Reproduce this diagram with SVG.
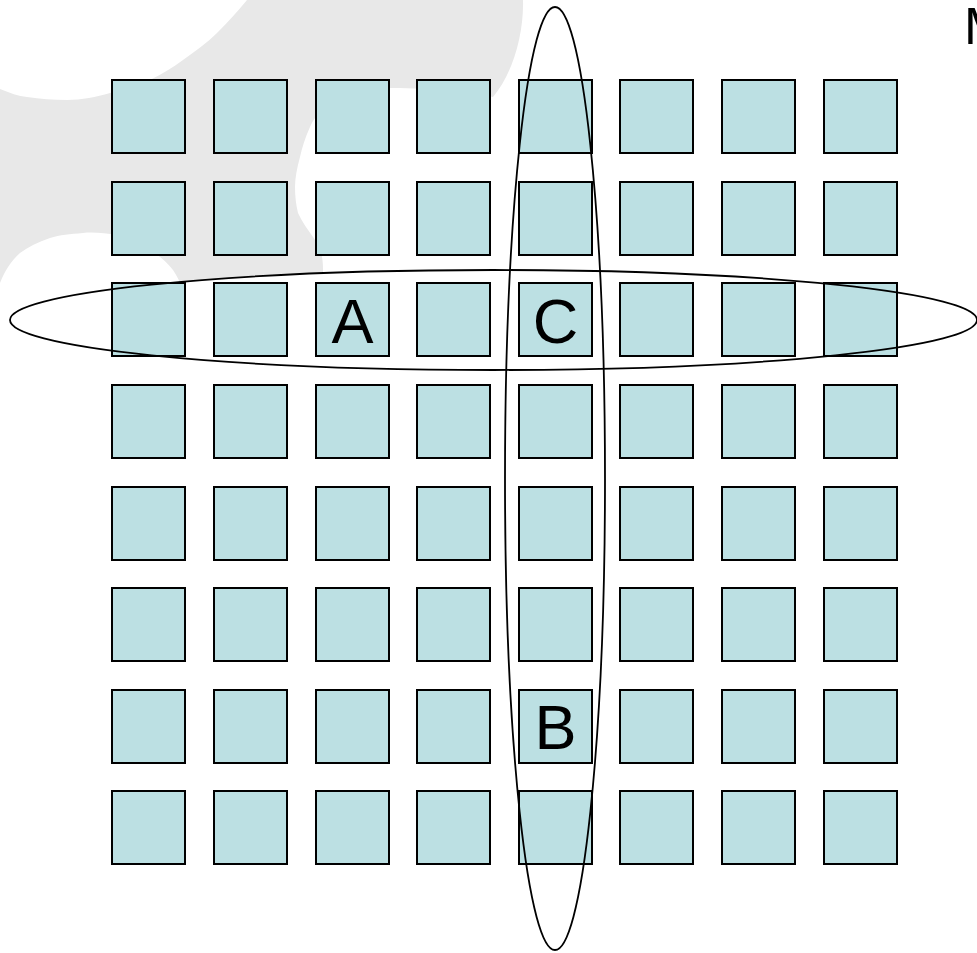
<svg xmlns="http://www.w3.org/2000/svg" width="977" height="953" viewBox="0 0 977 953">
<style>
.sq{fill:#BCE0E3;stroke:#000;stroke-width:2}
.ell{fill:none;stroke:#000;stroke-width:1.8}
.ellf{fill:#fff;stroke:none}
.lbl{font-family:"Liberation Sans",Arial,sans-serif;font-size:63px;fill:#000;text-anchor:middle}
</style>
<rect width="977" height="953" fill="#fff"/>
<g id="background">
<path fill="#E8E8E8" d="M247,0 L523,0 C524,35 512,75 493,97 C470,92 430,88 393,88 C370,88 355,89 347,92 C335,96 328,100 323,107 C317,115 313,120 310,127 C305,138 302,148 300,157 C297,168 295,178 295,187 C295,196 296,205 298,213 C302,222 308,230 313,237 C318,244 321,250 322,257 C323,262 323,268 323,273 L323,330 L183,330 L183,290 C180,282 177,276 173,270 C166,261 158,255 150,250 C140,243 128,236 117,235 C105,233 93,232 83,233 C70,234 60,235 50,238 C38,242 28,247 20,253 C12,260 5,270 0,283 L0,89 C10,93 18,96 27,97 C40,99 53,100 67,100 C82,100 96,97 110,93 C124,89 137,85 150,80 C162,74 172,68 183,60 C195,51 207,43 217,33 C228,22 238,11 247,0 Z"/>
</g>
<g id="ellipse-fills">
<ellipse class="ellf" cx="493.5" cy="320" rx="483.5" ry="50"/>
<ellipse class="ellf" cx="555" cy="478.5" rx="50" ry="471.5"/>
</g>
<g id="grid">
<g id="r1"><rect class="sq" x="112" y="80" width="73" height="73"/><rect class="sq" x="214" y="80" width="73" height="73"/><rect class="sq" x="316" y="80" width="73" height="73"/><rect class="sq" x="417" y="80" width="73" height="73"/><rect class="sq" x="519" y="80" width="73" height="73"/><rect class="sq" x="620" y="80" width="73" height="73"/><rect class="sq" x="722" y="80" width="73" height="73"/><rect class="sq" x="824" y="80" width="73" height="73"/></g>
<g id="r2"><rect class="sq" x="112" y="182" width="73" height="73"/><rect class="sq" x="214" y="182" width="73" height="73"/><rect class="sq" x="316" y="182" width="73" height="73"/><rect class="sq" x="417" y="182" width="73" height="73"/><rect class="sq" x="519" y="182" width="73" height="73"/><rect class="sq" x="620" y="182" width="73" height="73"/><rect class="sq" x="722" y="182" width="73" height="73"/><rect class="sq" x="824" y="182" width="73" height="73"/></g>
<g id="r3"><rect class="sq" x="112" y="283" width="73" height="73"/><rect class="sq" x="214" y="283" width="73" height="73"/><g id="node-A"><rect class="sq" x="316" y="283" width="73" height="73"/><text class="lbl" x="352.5" y="343">A</text></g><rect class="sq" x="417" y="283" width="73" height="73"/><g id="node-C"><rect class="sq" x="519" y="283" width="73" height="73"/><text class="lbl" x="555.5" y="343">C</text></g><rect class="sq" x="620" y="283" width="73" height="73"/><rect class="sq" x="722" y="283" width="73" height="73"/><rect class="sq" x="824" y="283" width="73" height="73"/></g>
<g id="r4"><rect class="sq" x="112" y="385" width="73" height="73"/><rect class="sq" x="214" y="385" width="73" height="73"/><rect class="sq" x="316" y="385" width="73" height="73"/><rect class="sq" x="417" y="385" width="73" height="73"/><rect class="sq" x="519" y="385" width="73" height="73"/><rect class="sq" x="620" y="385" width="73" height="73"/><rect class="sq" x="722" y="385" width="73" height="73"/><rect class="sq" x="824" y="385" width="73" height="73"/></g>
<g id="r5"><rect class="sq" x="112" y="487" width="73" height="73"/><rect class="sq" x="214" y="487" width="73" height="73"/><rect class="sq" x="316" y="487" width="73" height="73"/><rect class="sq" x="417" y="487" width="73" height="73"/><rect class="sq" x="519" y="487" width="73" height="73"/><rect class="sq" x="620" y="487" width="73" height="73"/><rect class="sq" x="722" y="487" width="73" height="73"/><rect class="sq" x="824" y="487" width="73" height="73"/></g>
<g id="r6"><rect class="sq" x="112" y="588" width="73" height="73"/><rect class="sq" x="214" y="588" width="73" height="73"/><rect class="sq" x="316" y="588" width="73" height="73"/><rect class="sq" x="417" y="588" width="73" height="73"/><rect class="sq" x="519" y="588" width="73" height="73"/><rect class="sq" x="620" y="588" width="73" height="73"/><rect class="sq" x="722" y="588" width="73" height="73"/><rect class="sq" x="824" y="588" width="73" height="73"/></g>
<g id="r7"><rect class="sq" x="112" y="690" width="73" height="73"/><rect class="sq" x="214" y="690" width="73" height="73"/><rect class="sq" x="316" y="690" width="73" height="73"/><rect class="sq" x="417" y="690" width="73" height="73"/><g id="node-B"><rect class="sq" x="519" y="690" width="73" height="73"/><text class="lbl" x="555.5" y="749">B</text></g><rect class="sq" x="620" y="690" width="73" height="73"/><rect class="sq" x="722" y="690" width="73" height="73"/><rect class="sq" x="824" y="690" width="73" height="73"/></g>
<g id="r8"><rect class="sq" x="112" y="791" width="73" height="73"/><rect class="sq" x="214" y="791" width="73" height="73"/><rect class="sq" x="316" y="791" width="73" height="73"/><rect class="sq" x="417" y="791" width="73" height="73"/><rect class="sq" x="519" y="791" width="73" height="73"/><rect class="sq" x="620" y="791" width="73" height="73"/><rect class="sq" x="722" y="791" width="73" height="73"/><rect class="sq" x="824" y="791" width="73" height="73"/></g>
</g>
<g id="connectors">
<ellipse class="ell" cx="493.5" cy="320" rx="483.5" ry="50"/>
<ellipse class="ell" cx="555" cy="478.5" rx="50" ry="471.5"/>
</g>
<g id="title"><text x="964" y="44" style="font-family:'Liberation Sans',Arial,sans-serif;font-size:52px;fill:#000">M</text></g>
</svg>
